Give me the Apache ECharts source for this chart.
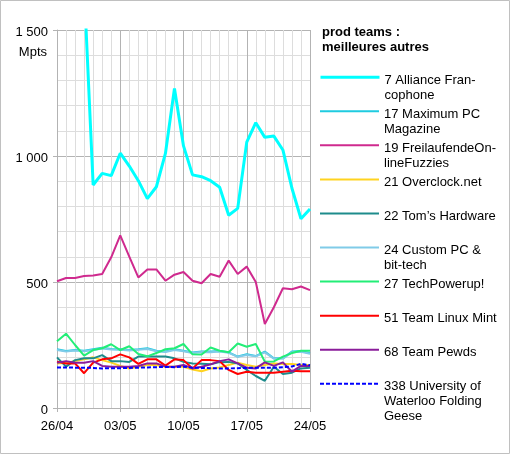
<!DOCTYPE html>
<html>
<head>
<meta charset="utf-8">
<script src="https://cdn.jsdelivr.net/npm/echarts@6/dist/echarts.min.js"></script>
<style>
html, body { margin: 0; padding: 0; background: #fff; }
#chart { width: 510px; height: 454px; }
</style>
</head>
<body>
<div id="chart"></div>
<script>
const dates = ['26/04', '27/04', '28/04', '29/04', '30/04', '01/05', '02/05', '03/05', '04/05', '05/05',
    '06/05', '07/05', '08/05', '09/05', '10/05', '11/05', '12/05', '13/05', '14/05', '15/05',
    '16/05', '17/05', '18/05', '19/05', '20/05', '21/05', '22/05', '23/05', '24/05'];

const alliance = [1800, 1760, 1720, 1675, 885, 931, 922, 1011, 960, 902, 831, 878, 1010, 1268, 1040,
    925, 918, 902, 876, 765, 792, 1055, 1132, 1074, 1079, 1024, 872, 751, 790];
const maximumPC = [233, 226, 230, 227, 233, 239, 234, 233, 230, 233, 237, 227, 224, 233, 227,
    220, 224, 224, 226, 221, 204, 213, 206, 224, 197, 197, 224, 226, 217];
const freilaufende = [503, 516, 516, 524, 526, 532, 598, 685, 601, 518, 550, 550, 505, 529, 540,
    505, 495, 532, 521, 585, 532, 561, 500, 333, 400, 475, 471, 482, 468];
const overclock = [177, 180, 186, 193, 201, 190, 180, 167, 157, 164, 171, 171, 164, 164, 164,
    153, 146, 157, 161, 171, 180, 171, 164, 171, 177, 175, 175, 171, 171];
const tomsHardware = [201, 164, 190, 197, 197, 210, 186, 186, 183, 204, 204, 204, 204, 197, 183,
    177, 176, 174, 182, 183, 177, 151, 127, 108, 164, 135, 140, 157, 160];
const customPC = [230, 224, 228, 225, 230, 236, 232, 231, 228, 231, 234, 225, 222, 230, 225,
    218, 222, 221, 224, 219, 203, 210, 205, 221, 196, 196, 221, 223, 215];
const techPowerup = [265, 295, 250, 208, 230, 237, 253, 230, 245, 214, 205, 218, 233, 237, 254,
    213, 212, 240, 227, 221, 256, 243, 254, 184, 185, 204, 218, 227, 227];
const linuxMint = [184, 177, 177, 138, 180, 193, 197, 213, 201, 175, 193, 193, 168, 193, 190,
    157, 190, 190, 186, 151, 135, 144, 140, 140, 140, 144, 148, 146, 146];
const pewds = [180, 186, 180, 180, 186, 167, 164, 164, 164, 167, 177, 177, 164, 164, 171,
    157, 164, 173, 186, 193, 177, 160, 157, 181, 167, 181, 144, 167, 167];
const waterloo = [161, 161, 160, 160, 159, 157, 158, 158, 159, 160, 161, 162, 163, 162, 164,
    160, 159, 158, 157, 157, 158, 159, 160, 160, 160, 162, 165, 175, 170];

const teamNames = ['7 Alliance Francophone', '17 Maximum PC Magazine', '19 FreilaufendeOnlineFuzzies',
    '21 Overclock.net', '22 Tom’s Hardware', '24 Custom PC & bit-tech', '27 TechPowerup!',
    '51 Team Linux Mint', '68 Team Pewds', '338 University of Waterloo Folding Geese'];
const teamLabels = [
    ['7 Alliance Fran-', 'cophone'],
    ['17 Maximum PC', 'Magazine'],
    ['19 FreilaufendeOn-', 'lineFuzzies'],
    ['21 Overclock.net'],
    ['22 Tom’s Hardware'],
    ['24 Custom PC &', 'bit-tech'],
    ['27 TechPowerup!'],
    ['51 Team Linux Mint'],
    ['68 Team Pewds'],
    ['338 University of', 'Waterloo Folding', 'Geese']
];
const teamData = [alliance, maximumPC, freilaufende, overclock, tomsHardware, customPC,
    techPowerup, linuxMint, pewds, waterloo];
const teamColors = ['#00ffff', '#1fcbe0', '#cf2a8e', '#ffd320', '#1e8c8c', '#80cbe8',
    '#22ee77', '#ff0000', '#8a1c9a', '#0000ff'];
const teamWidths = [3, 2, 2, 2, 2, 2, 2, 2, 2, 2];

const FONT = 'Liberation Sans';

let myChart = echarts.init(document.getElementById('chart'));

// one legend per team so that every entry keeps the same spacing;
// a spacer line on top puts the first text line just under the icon line
let legends = teamNames.map(function (name, i) {
    let lines = teamLabels[i];
    let spacer = 6 + (lines.length - 1) * 15;
    let boxH = spacer + lines.length * 15;
    return {
        data: [name],
        left: 319,
        top: 76.7 + i * 34.07 - boxH / 2 + spacer / 2,
        padding: 0,
        itemWidth: 59,
        itemHeight: 14,
        selectedMode: false,
        lineStyle: { width: teamWidths[i] },
        itemStyle: { opacity: 0, color: 'rgba(0,0,0,0)', borderWidth: 0 },
        formatter: function () {
            return '{s| }\n' + lines.map(function (l) { return '{a|' + l + '}'; }).join('\n');
        },
        textStyle: {
            fontFamily: FONT,
            fontSize: 13,
            color: '#000',
            rich: {
                s: { fontSize: 1, lineHeight: spacer },
                a: { fontFamily: FONT, fontSize: 13, lineHeight: 15, color: '#000' }
            }
        }
    };
});

let option = {
    backgroundColor: '#fff',
    animation: false,
    title: {
        text: 'prod teams :\nmeilleures autres',
        left: 322,
        top: 25,
        padding: 0,
        textStyle: {
            fontFamily: FONT,
            fontSize: 13,
            fontWeight: 'bold',
            lineHeight: 15,
            color: '#000'
        }
    },
    legend: legends,
    grid: { left: 57, right: 200, top: 30, bottom: 46 },
    xAxis: [{
        type: 'category',
        data: dates,
        boundaryGap: false,
        axisLine: { lineStyle: { color: '#b3b3b3' } },
        axisTick: { interval: 6, length: 4, lineStyle: { color: '#b3b3b3' } },
        axisLabel: { interval: 6, margin: 12, color: '#000', fontFamily: FONT, fontSize: 13 },
        splitLine: { show: true, interval: 6, lineStyle: { color: '#b3b3b3' } }
    }, {
        type: 'category',
        data: dates,
        boundaryGap: false,
        axisLine: { show: false },
        axisTick: { show: false },
        axisLabel: { show: false },
        splitLine: {
            show: true,
            interval: function (idx) { return idx % 7 !== 0; },
            lineStyle: { color: '#dddddd' }
        }
    }],
    yAxis: {
        type: 'value',
        min: 0,
        max: 1500,
        interval: 500,
        axisLine: { show: true, lineStyle: { color: '#b3b3b3' } },
        axisTick: { show: true, length: 4, lineStyle: { color: '#b3b3b3' } },
        axisLabel: {
            margin: 9,
            color: '#000',
            fontFamily: FONT,
            fontSize: 13,
            formatter: function (v) {
                let s = String(v);
                if (v >= 1000) {
                    s = Math.floor(v / 1000) + ' ' + String(v % 1000).padStart(3, '0');
                }
                return '{v|' + s + '}';
            },
            rich: {
                v: { fontFamily: FONT, fontSize: 13, color: '#000', padding: [4, 0, 0, 0] }
            }
        },
        splitLine: { lineStyle: { color: '#b3b3b3' } },
        minorTick: { show: false, splitNumber: 5 },
        minorSplitLine: { show: true, lineStyle: { color: '#dddddd' } }
    },
    graphic: [{
        type: 'rect',
        silent: true,
        shape: { x: 0.5, y: 0.5, width: 509, height: 453 },
        style: { fill: 'none', stroke: '#c0c0c0', lineWidth: 1 }
    }, {
        type: 'text',
        silent: true,
        x: 47,
        y: 52,
        style: {
            text: 'Mpts',
            align: 'right',
            verticalAlign: 'middle',
            font: '13px "Liberation Sans"',
            fill: '#000'
        }
    }],
    series: teamNames.map(function (name, i) {
        return {
            name: name,
            type: 'line',
            data: teamData[i],
            symbol: 'none',
            clip: true,
            lineStyle: {
                color: teamColors[i],
                width: teamWidths[i],
                type: i === 9 ? [4, 2] : 'solid'
            },
            itemStyle: { color: teamColors[i] },
            emphasis: { disabled: true }
        };
    })
};

myChart.setOption(option);
</script>
</body>
</html>
